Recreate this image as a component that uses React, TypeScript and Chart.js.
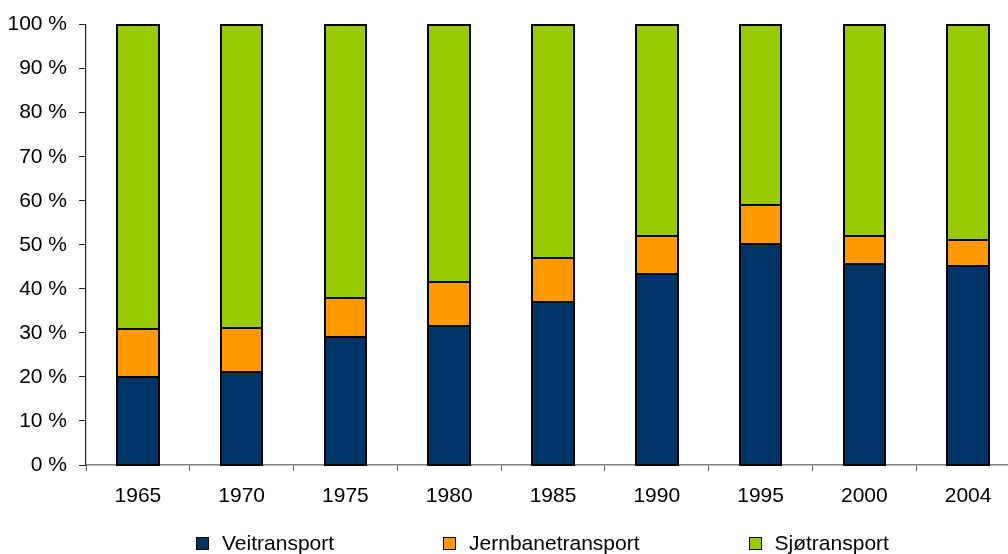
import React, { useEffect, useRef } from "react";
import { Chart, registerables } from "chart.js";

Chart.register(...registerables);

const categories = ["1965", "1970", "1975", "1980", "1985", "1990", "1995", "2000", "2004"];
const veitransport = [20.0, 21.2, 29.0, 31.5, 36.9, 43.3, 50.2, 45.6, 45.2];
const jernbanetransport = [10.8, 9.9, 9.0, 10.0, 10.2, 8.8, 8.8, 6.4, 6.0];
const sjotransport = [69.2, 68.9, 62.0, 58.5, 52.9, 47.9, 41.0, 48.0, 48.8];
const seriesNames = ["Veitransport", "Jernbanetransport", "Sjøtransport"];
const seriesColors = ["#003366", "#FF9900", "#99CC00"];
const yTicks = { min: 0, max: 100, step: 10 };

const FONT = "'Liberation Sans', Arial, sans-serif";

const barOutline = {
  id: "barOutline",
  afterDatasetsDraw(chart: any) {
    const ctx = chart.ctx;
    ctx.save();
    ctx.strokeStyle = "#000000";
    ctx.lineWidth = 2;
    chart.data.datasets.forEach((_: any, di: number) => {
      const meta = chart.getDatasetMeta(di);
      meta.data.forEach((bar: any) => {
        const { x, y, base, width } = bar.getProps(["x", "y", "base", "width"], true);
        const l = Math.round(x - width / 2);
        const r = Math.round(x + width / 2);
        const t = Math.round(y);
        const b = Math.round(base);
        ctx.strokeRect(l, t, r - l, b - t);
      });
    });
    ctx.restore();
  },
};

export default function App() {
  const ref = useRef<HTMLCanvasElement | null>(null);

  useEffect(() => {
    document.body.style.margin = "0";
    document.body.style.overflow = "hidden";
    const series = [veitransport, jernbanetransport, sjotransport];
    const chart = new Chart(ref.current!, {
      type: "bar",
      data: {
        labels: categories,
        datasets: series.map((d, i) => ({
          label: seriesNames[i],
          data: d,
          backgroundColor: seriesColors[i],
          borderWidth: 0,
          barPercentage: 0.4,
          categoryPercentage: 1,
        })),
      },
      options: {
        animation: false,
        responsive: false,
        maintainAspectRatio: false,
        devicePixelRatio: 1,
        layout: { padding: { top: 23, right: 0, bottom: 0, left: 0 } },
        plugins: { legend: { display: false }, tooltip: { enabled: false } },
        scales: {
          x: {
            stacked: true,
            afterFit: (s: any) => {
              s.height = 89;
            },
            grid: {
              display: true,
              drawOnChartArea: false,
              drawTicks: true,
              tickLength: 6,
              color: "#555555",
              offset: true,
            },
            border: { display: true, color: "#808080", width: 1.5 },
            ticks: {
              color: "#000000",
              font: { family: FONT, size: 21 },
              padding: 13,
              maxRotation: 0,
            },
          },
          y: {
            stacked: true,
            min: yTicks.min,
            max: yTicks.max,
            afterFit: (s: any) => {
              s.width = 86;
            },
            grid: {
              display: true,
              drawOnChartArea: false,
              drawTicks: true,
              tickLength: 7,
              color: "#222222",
            },
            border: { display: true, color: "#222222", width: 1.2 },
            ticks: {
              stepSize: yTicks.step,
              color: "#000000",
              font: { family: FONT, size: 21 },
              padding: 12,
              callback: (v: any) => `${v} %`,
            },
          },
        },
      },
      plugins: [barOutline],
    });
    return () => chart.destroy();
  }, []);

  return (
    <div style={{ position: "fixed", left: 0, top: 0, width: 1008, height: 554, overflow: "hidden", background: "#fff" }}>
      <canvas ref={ref} width={1020} height={554} style={{ position: "absolute", left: 0, top: 0, width: 1020, height: 554 }} />
      <div
        style={{
          position: "absolute",
          left: 196,
          top: 531,
          display: "flex",
          alignItems: "center",
          gap: 109,
          fontFamily: FONT,
          fontSize: 21,
          color: "#000",
          whiteSpace: "nowrap",
        }}
      >
        {seriesNames.map((n, i) => (
          <div key={n} style={{ display: "flex", alignItems: "center" }}>
            <span
              style={{
                display: "inline-block",
                width: 11,
                height: 11,
                background: seriesColors[i],
                border: "1px solid #000",
                marginRight: 13,
              }}
            />
            <span>{n}</span>
          </div>
        ))}
      </div>
    </div>
  );
}
